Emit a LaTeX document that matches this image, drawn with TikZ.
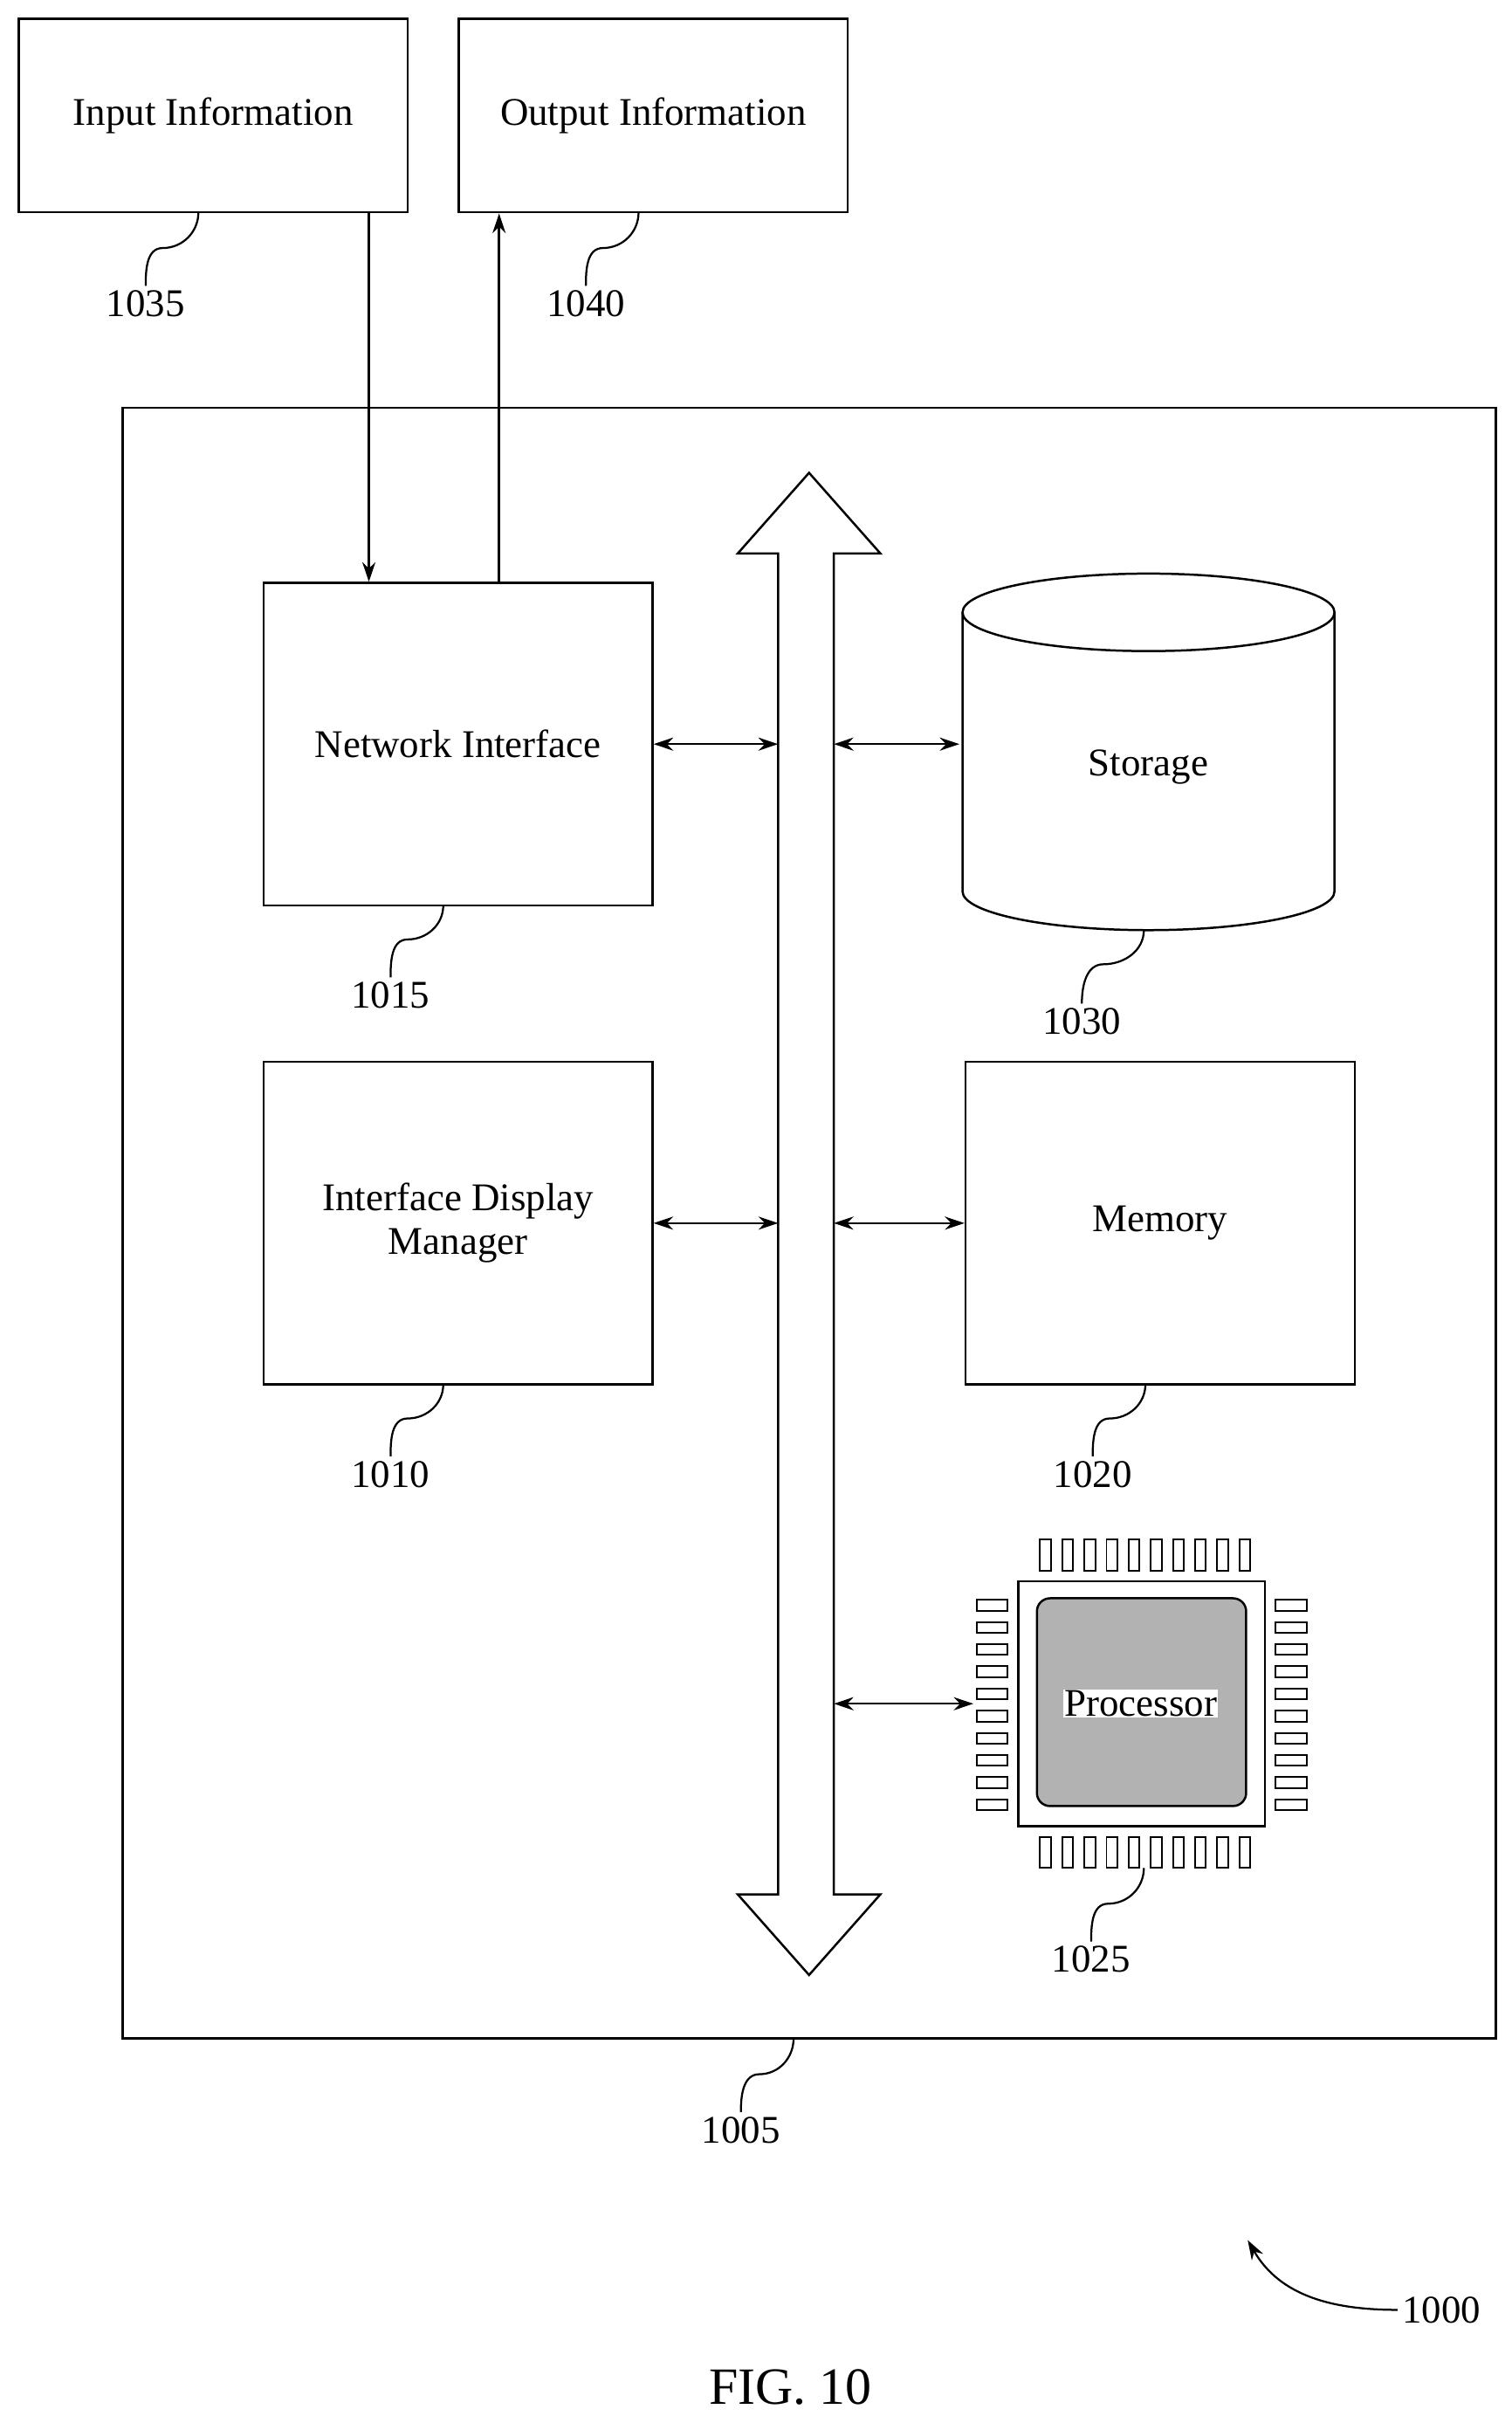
\documentclass[tikz,border=0pt]{standalone}
\usepackage{fontspec}
\setmainfont{Liberation Serif}
\usetikzlibrary{positioning,shapes.geometric,arrows.meta}
\begin{document}
\begin{tikzpicture}[x=0.05cm,y=-0.05cm, line width=2pt,
  boxnode/.style={draw, align=center, font=\fontsize{36}{40}\selectfont},
  refnum/.style={font=\fontsize{36}{40}\selectfont},
  lead/.style={line width=1.8pt},
  link/.style={{Stealth[length=18pt,width=12pt]}-{Stealth[length=18pt,width=12pt]}},
  pin/.style={draw, line width=1.6pt, fill=white}]
\useasboundingbox (0,0) rectangle (975,1563);

% outer things
\node[boxnode, minimum width=251*0.05cm, minimum height=125*0.05cm] at (137.5,74.5) (inp) {Input Information};
\node[boxnode, minimum width=251*0.05cm, minimum height=125*0.05cm] at (421.5,74.5) (outp) {Output Information};
\node[refnum] at (94,196) (n1035) {1035};
\node[refnum] at (378,196) (n1040) {1040};
\draw[lead] (128,137) to[out=-90,in=0] (105,160) to[out=180,in=90] (n1035.north);
\draw[lead] (412,137) to[out=-90,in=0] (389,160) to[out=180,in=90] (n1040.north);

% device box
\node[draw, minimum width=886*0.05cm, minimum height=1052*0.05cm] at (522,789) (dev) {};
\node[refnum] at (478,1374) (n1005) {1005};
\draw[lead] (512,1315) to[out=-90,in=0] (490,1338) to[out=180,in=90] (n1005.north);

% blocks
\node[boxnode, minimum width=251*0.05cm, minimum height=208*0.05cm] at (295.5,480) (net) {Network Interface};
\node[boxnode, minimum width=251*0.05cm, minimum height=208*0.05cm] at (295.5,789) (idm) {Interface Display\\Manager};
\node[boxnode, minimum width=251*0.05cm, minimum height=208*0.05cm] at (748.5,789) (mem) {Memory};
\node[refnum] at (252,642) (n1015) {1015};
\node[refnum] at (252,951) (n1010) {1010};
\node[refnum] at (705,951) (n1020) {1020};
\draw[lead] (286,584) to[out=-90,in=0] (263,606) to[out=180,in=90] (n1015.north);
\draw[lead] (286,893) to[out=-90,in=0] (263,915) to[out=180,in=90] (n1010.north);
\draw[lead] (739,893) to[out=-90,in=0] (716,915) to[out=180,in=90] (n1020.north);

% storage
\draw (741,395) ellipse [x radius=120, y radius=25];
\draw (621,395) -- (621,575) arc[start angle=180, end angle=360, x radius=120, y radius=-25] -- (861,395);
\node[font=\fontsize{36}{40}\selectfont] at (741,495) (sto) {Storage};
\coordinate (stow) at (619,480);
\node[refnum] at (698,659) (n1030) {1030};
\draw[lead] (738,600) to[out=-90,in=0] (712,622) to[out=180,in=90] (n1030.north);

% bus
\draw[fill=white] (502,1222) -- (502,357) -- (476,357) -- (522,305) -- (568,357) -- (538,357)
  -- (538,1222) -- (568,1222) -- (522,1274) -- (476,1222) -- cycle;
\coordinate (busl) at (502,0);
\coordinate (busr) at (538,0);

% processor
\foreach \i in {0,...,9} {
  \draw[pin] (671+\i*14.3,993) rectangle ++(7,20);
  \draw[pin] (671+\i*14.3,1185) rectangle ++(7,20);
  \draw[pin] (630,1032+\i*14.3) rectangle ++(20,7);
  \draw[pin] (823,1032+\i*14.3) rectangle ++(20,7);
}
\draw[fill=white] (657,1020) rectangle (816,1178);
\draw[fill=gray!60, rounded corners=12pt] (669,1031) rectangle (804,1165);
\node[fill=white, inner sep=1pt, font=\fontsize{36}{40}\selectfont] at (736,1099) (cpu) {Processor};
\coordinate (cpuw) at (628,1099);
\node[refnum] at (704,1264) (n1025) {1025};
\draw[lead] (738,1205) to[out=-90,in=0] (715,1228) to[out=180,in=90] (n1025.north);

% links
\draw[link] (net.east) -- (busl |- net.east);
\draw[link] (busr |- net.east) -- (stow);
\draw[link] (idm.east) -- (busl |- idm.east);
\draw[link] (busr |- idm.east) -- (mem.west);
\draw[link] (busr |- cpuw) -- (cpuw);
\draw[-{Stealth[length=18pt,width=12pt]}] (inp.south -| 238,0) -- (net.north -| 238,0);
\draw[-{Stealth[length=18pt,width=12pt]}] (net.north -| 322,0) -- (outp.south -| 322,0);

% figure number
\node[refnum] at (930,1490) (n1000) {1000};
\draw[lead, -{Stealth[length=18pt,width=12pt]}] (n1000.west) to[out=180,in=-60] (805,1445);
\node[font=\fontsize{48}{52}\selectfont] at (510,1540) (fig) {FIG. 10};
\end{tikzpicture}
\end{document}
